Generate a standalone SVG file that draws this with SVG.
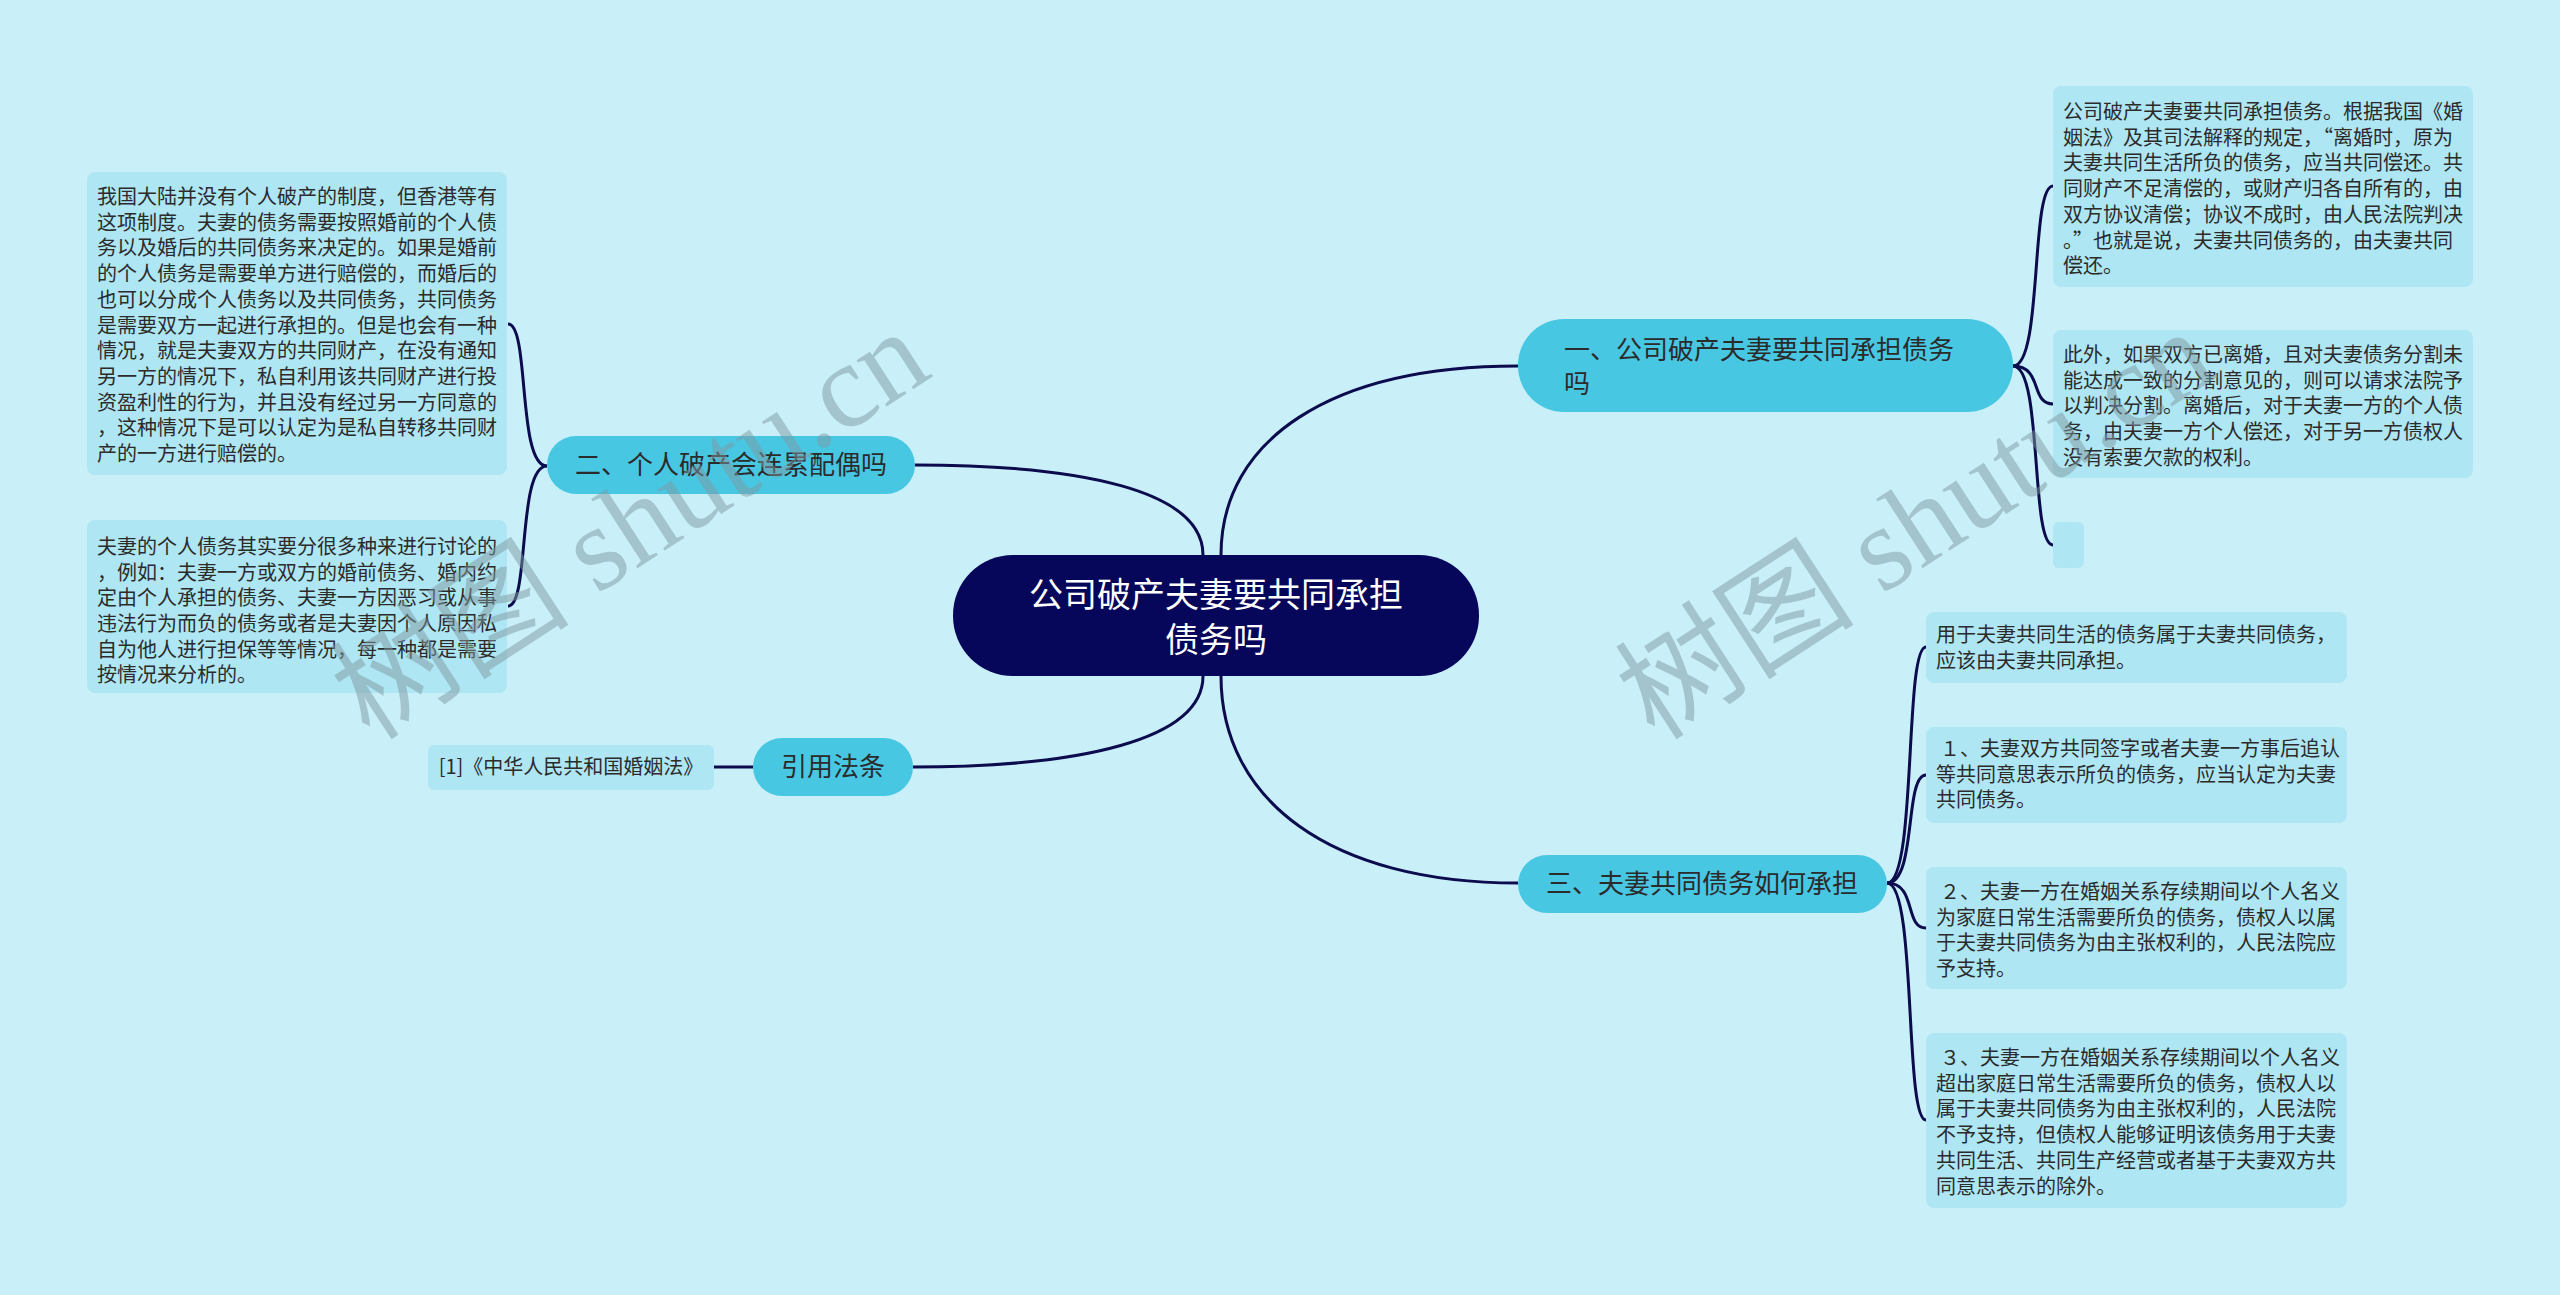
<svg xmlns="http://www.w3.org/2000/svg" width="2560" height="1295" viewBox="0 0 2560 1295">
<style>
.bg{fill:#c9f0f8}
.leaf rect{fill:#aee6f3}
.branch rect{fill:#48c7e3}
.root rect{fill:#06065a}
text{font-family:"Noto Sans CJK SC","Liberation Sans",sans-serif;fill:#2b2b2b}
.lt{font-size:20px}
.bt{font-size:26px}
.rt{font-size:34px;fill:#ffffff}
.conn path{fill:none;stroke:#0b0b4e;stroke-width:3}
.wm{font-family:"Liberation Serif","Noto Sans CJK SC",serif;font-size:120px;fill:#7f9aa2;opacity:0.5}
</style>
<rect class="bg" x="0" y="0" width="2560" height="1295"/>
<g id="connectors" class="conn">
<path d="M1221,555 C1221,440 1330,366 1518,366"/>
<path d="M1221,676 C1221,800 1330,883 1518,883"/>
<path d="M1203,555 C1203,490 1080,465 915,465"/>
<path d="M1203,676 C1203,740 1080,767 913,767"/>
<path d="M753,767 L714,767"/>
<path d="M547,466 C517,466 530,324 508,324"/>
<path d="M547,466 C517,466 530,606 508,606"/>
<path d="M2013,366 C2043,366 2030,186 2053,186"/>
<path d="M2013,366 C2043,366 2030,404 2053,404"/>
<path d="M2013,366 C2043,366 2030,545 2053,545"/>
<path d="M1887,883 C1917,883 1904,647 1926,647"/>
<path d="M1887,883 C1917,883 1904,775 1926,775"/>
<path d="M1887,883 C1917,883 1904,928 1926,928"/>
<path d="M1887,883 C1917,883 1904,1120 1926,1120"/>
</g>
<g id="root" class="root">
<rect x="953" y="555" width="526" height="121" rx="60"/>
<text class="rt" text-anchor="middle"><tspan x="1216" y="607">公司破产夫妻要共同承担</tspan><tspan x="1216" y="652">债务吗</tspan></text>
</g>
<g id="b1" class="branch">
<rect x="1518" y="319" width="495" height="93" rx="46"/>
<text class="bt"><tspan x="1564" y="359">一、公司破产夫妻要共同承担债务</tspan><tspan x="1564" y="393">吗</tspan></text>
</g>
<g id="b2" class="branch">
<rect x="547" y="436" width="368" height="58" rx="29"/>
<text class="bt" x="731" y="474" text-anchor="middle">二、个人破产会连累配偶吗</text>
</g>
<g id="b3" class="branch">
<rect x="1518" y="855" width="369" height="58" rx="29"/>
<text class="bt" x="1702" y="893" text-anchor="middle">三、夫妻共同债务如何承担</text>
</g>
<g id="b4" class="branch">
<rect x="753" y="738" width="160" height="58" rx="29"/>
<text class="bt" x="833" y="776" text-anchor="middle">引用法条</text>
</g>
<g id="ref1" class="leaf">
<rect x="428" y="745" width="286" height="45" rx="6"/>
<text class="lt" x="571" y="774" text-anchor="middle">[1]《中华人民共和国婚姻法》</text>
</g>
<g id="l1" class="leaf">
<rect x="87" y="172" width="420" height="303" rx="8"/>
<text class="lt"><tspan x="97" y="204">我国大陆并没有个人破产的制度，但香港等有</tspan><tspan x="97" y="229.7">这项制度。夫妻的债务需要按照婚前的个人债</tspan><tspan x="97" y="255.4">务以及婚后的共同债务来决定的。如果是婚前</tspan><tspan x="97" y="281.1">的个人债务是需要单方进行赔偿的，而婚后的</tspan><tspan x="97" y="306.8">也可以分成个人债务以及共同债务，共同债务</tspan><tspan x="97" y="332.5">是需要双方一起进行承担的。但是也会有一种</tspan><tspan x="97" y="358.2">情况，就是夫妻双方的共同财产，在没有通知</tspan><tspan x="97" y="383.9">另一方的情况下，私自利用该共同财产进行投</tspan><tspan x="97" y="409.6">资盈利性的行为，并且没有经过另一方同意的</tspan><tspan x="97" y="435.3">，这种情况下是可以认定为是私自转移共同财</tspan><tspan x="97" y="461">产的一方进行赔偿的。</tspan></text>
</g>
<g id="l2" class="leaf">
<rect x="87" y="520" width="420" height="173" rx="8"/>
<text class="lt"><tspan x="97" y="554">夫妻的个人债务其实要分很多种来进行讨论的</tspan><tspan x="97" y="579.7">，例如：夫妻一方或双方的婚前债务、婚内约</tspan><tspan x="97" y="605.4">定由个人承担的债务、夫妻一方因恶习或从事</tspan><tspan x="97" y="631.1">违法行为而负的债务或者是夫妻因个人原因私</tspan><tspan x="97" y="656.8">自为他人进行担保等等情况，每一种都是需要</tspan><tspan x="97" y="682">按情况来分析的。</tspan></text>
</g>
<g id="r1" class="leaf">
<rect x="2053" y="86" width="420" height="201" rx="8"/>
<text class="lt"><tspan x="2063" y="119">公司破产夫妻要共同承担债务。根据我国《婚</tspan><tspan x="2063" y="144.7">姻法》及其司法解释的规定，“离婚时，原为</tspan><tspan x="2063" y="170.4">夫妻共同生活所负的债务，应当共同偿还。共</tspan><tspan x="2063" y="196.1">同财产不足清偿的，或财产归各自所有的，由</tspan><tspan x="2063" y="221.8">双方协议清偿；协议不成时，由人民法院判决</tspan><tspan x="2063" y="247.5">。”也就是说，夫妻共同债务的，由夫妻共同</tspan><tspan x="2063" y="273.2">偿还。</tspan></text>
</g>
<g id="r2" class="leaf">
<rect x="2053" y="330" width="420" height="148" rx="8"/>
<text class="lt"><tspan x="2063" y="362">此外，如果双方已离婚，且对夫妻债务分割未</tspan><tspan x="2063" y="387.7">能达成一致的分割意见的，则可以请求法院予</tspan><tspan x="2063" y="413.4">以判决分割。离婚后，对于夫妻一方的个人债</tspan><tspan x="2063" y="439.1">务，由夫妻一方个人偿还，对于另一方债权人</tspan><tspan x="2063" y="464.8">没有索要欠款的权利。</tspan></text>
</g>
<g id="r3" class="leaf">
<rect x="2053" y="522" width="31" height="46" rx="6"/>
</g>
<g id="s1" class="leaf">
<rect x="1926" y="612" width="421" height="71" rx="8"/>
<text class="lt"><tspan x="1936" y="642">用于夫妻共同生活的债务属于夫妻共同债务，</tspan><tspan x="1936" y="667.7">应该由夫妻共同承担。</tspan></text>
</g>
<g id="s2" class="leaf">
<rect x="1926" y="727" width="421" height="96" rx="8"/>
<text class="lt"><tspan x="1940" y="756">１、夫妻双方共同签字或者夫妻一方事后追认</tspan><tspan x="1936" y="781.7">等共同意思表示所负的债务，应当认定为夫妻</tspan><tspan x="1936" y="807.4">共同债务。</tspan></text>
</g>
<g id="s3" class="leaf">
<rect x="1926" y="867" width="421" height="122" rx="8"/>
<text class="lt"><tspan x="1940" y="899">２、夫妻一方在婚姻关系存续期间以个人名义</tspan><tspan x="1936" y="924.7">为家庭日常生活需要所负的债务，债权人以属</tspan><tspan x="1936" y="950.4">于夫妻共同债务为由主张权利的，人民法院应</tspan><tspan x="1936" y="976.1">予支持。</tspan></text>
</g>
<g id="s4" class="leaf">
<rect x="1926" y="1033" width="421" height="175" rx="8"/>
<text class="lt"><tspan x="1940" y="1065">３、夫妻一方在婚姻关系存续期间以个人名义</tspan><tspan x="1936" y="1090.7">超出家庭日常生活需要所负的债务，债权人以</tspan><tspan x="1936" y="1116.4">属于夫妻共同债务为由主张权利的，人民法院</tspan><tspan x="1936" y="1142.1">不予支持，但债权人能够证明该债务用于夫妻</tspan><tspan x="1936" y="1167.8">共同生活、共同生产经营或者基于夫妻双方共</tspan><tspan x="1936" y="1193.5">同意思表示的除外。</tspan></text>
</g>
<g id="watermarks">
<text class="wm" transform="translate(370,742) rotate(-33)">树图 shutu.cn</text>
<text class="wm" transform="translate(1655,742) rotate(-33)">树图 shutu.cn</text>
</g>
</svg>
